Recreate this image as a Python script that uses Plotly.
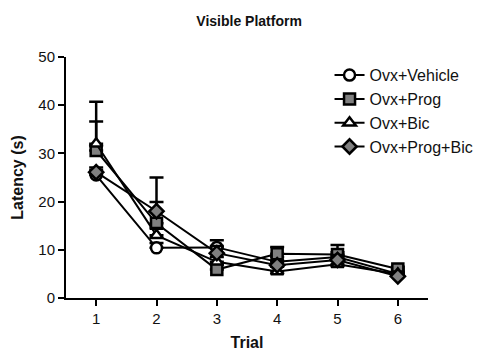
import plotly.graph_objects as go

trials = [1, 2, 3, 4, 5, 6]
series = ["Ovx+Vehicle", "Ovx+Prog", "Ovx+Bic", "Ovx+Prog+Bic"]
vehicle = [25.5, 10.4, 10.5, 7.5, 8.5, 5.0]
vehicle_err = [1.0, 1.0, 1.5, 1.0, 1.0, 0.5]
prog = [30.6, 15.5, 5.9, 9.2, 9.0, 6.0]
prog_err = [6.0, 4.4, 1.0, 1.4, 2.0, 0.5]
bic = [32.0, 13.0, 7.5, 5.5, 7.0, 5.0]
bic_err = [8.7, 1.5, 1.0, 1.0, 1.0, 0.5]
progbic = [26.1, 18.0, 9.3, 6.8, 7.9, 4.5]
progbic_err = [1.0, 7.0, 1.5, 1.0, 1.0, 0.5]

styles = [
    dict(symbol="circle", color="white"),
    dict(symbol="square", color="#808080"),
    dict(symbol="triangle-up", color="white"),
    dict(symbol="diamond", color="#808080"),
]
vals = [vehicle, prog, bic, progbic]
errs = [vehicle_err, prog_err, bic_err, progbic_err]

fig = go.Figure()
for name, v, e, st in zip(series, vals, errs, styles):
    fig.add_trace(go.Scatter(
        x=trials, y=v, name=name, mode="lines+markers",
        line=dict(color="black", width=2),
        marker=dict(symbol=st["symbol"], color=st["color"], size=11,
                    line=dict(color="black", width=2.5)),
        error_y=dict(type="data", array=e, arrayminus=[0]*len(e), symmetric=False,
                     color="black", thickness=2.5, width=7),
    ))

font = "Liberation Sans, Arial, sans-serif"
fig.update_layout(
    width=492, height=349,
    margin=dict(l=58, r=72, t=49, b=59),
    paper_bgcolor="white", plot_bgcolor="white",
    title=dict(text="<b>Visible Platform</b>", x=0.49, xanchor="center",
               y=0.962, yanchor="middle", font=dict(family=font, size=14, color="#111")),
    font=dict(family=font, color="#111"),
    xaxis=dict(range=[0.5, 6.5], tickvals=trials, showline=True, linecolor="black",
               linewidth=2, ticks="outside", ticklen=6, tickwidth=2, tickcolor="black",
               showgrid=False, zeroline=False, automargin=False,
               tickfont=dict(size=15, family=font, color="#111"),
               title=dict(text="<b>Trial</b>", font=dict(size=16, family=font), standoff=11)),
    yaxis=dict(range=[0, 50], tickvals=[0, 10, 20, 30, 40, 50], showline=True,
               linecolor="black", linewidth=2, ticks="outside", ticklen=6, tickwidth=2,
               tickcolor="black", showgrid=False, zeroline=False, automargin=False,
               tickfont=dict(size=15, family=font, color="#111"),
               title=dict(text="<b>Latency (s)</b>", font=dict(size=16, family=font), standoff=11)),
    legend=dict(x=0.728, y=0.995, xanchor="left", yanchor="top", bgcolor="rgba(0,0,0,0)",
                font=dict(size=16, family=font, color="#111"), itemwidth=30,
                tracegroupgap=0),
    showlegend=True,
)
fig.write_html("out.html")
